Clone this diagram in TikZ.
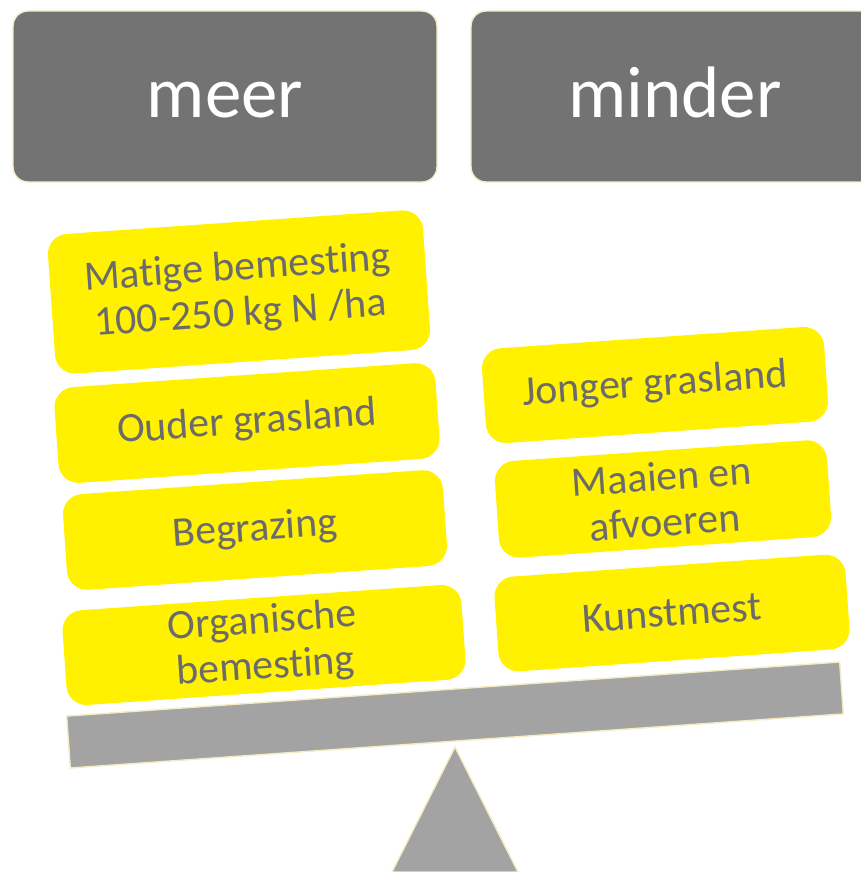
\documentclass[tikz,border=0pt]{standalone}
\usepackage{fontspec}
\setmainfont{Carlito}[Ligatures=NoCommon]
\definecolor{headgrey}{HTML}{737373}
\definecolor{beamgrey}{HTML}{A3A3A3}
\definecolor{signyellow}{HTML}{FFF100}
\definecolor{labelgrey}{HTML}{6B6B6B}
\definecolor{paleedge}{HTML}{F3EBC2}

\begin{document}
\begin{tikzpicture}[x=0.02cm, y=-0.02cm,
  header/.style={draw=paleedge, line width=0.8pt, fill=headgrey, text=white, rounded corners=0.3cm, minimum width=8.48cm, minimum height=3.42cm, text height=24.4pt, text depth=0pt, font=\fontsize{41.5}{48}\selectfont},
  factor/.style={fill=signyellow, text=labelgrey, rounded corners=0.4cm, rotate=4, align=center, inner sep=0pt, minimum height=1.92cm, font=\fontsize{23.8}{26}\selectfont},
  support/.style={fill=beamgrey, draw=paleedge, line width=0.8pt}]
\useasboundingbox (0,0) rectangle (861,872);

% Draw the two headings
\node[header] (meer) at (225,96.5) {meer};
\node[header, minimum width=8.16cm] (minder) at (675,96.5) {minder};

% Draw the factors on the left side
\node[factor, minimum width=7.52cm, minimum height=2.8cm] (matige) at (239,292) {Matige bemesting\\100-250 kg N /ha};
\node[factor, minimum width=7.64cm] (ouder) at (247,423) {Ouder grasland};
\node[factor, minimum width=7.62cm] (begrazing) at (255,530) {Begrazing};
\node[factor, minimum width=8cm, minimum height=1.9cm] (organisch) at (264,645) {Organische\\bemesting};

% Draw the factors on the right side
\node[factor, minimum width=6.86cm, minimum height=1.9cm] (jonger) at (655,385) {Jonger grasland};
\node[factor, minimum width=6.66cm, minimum height=1.94cm] (maaien) at (663,499) {Maaien en\\afvoeren};
\node[factor, minimum width=7.04cm, minimum height=1.9cm] (kunstmest) at (672,613) {Kunstmest};

% Draw the balance
\node[support, rotate=4, minimum width=15.5cm, minimum height=1.04cm, inner sep=0pt] (beam) at (455,715) {};
\coordinate (pivot) at (455,747);
\draw[support] (pivot) -- (392,872) -- (518,872) -- cycle;
\end{tikzpicture}
\end{document}
